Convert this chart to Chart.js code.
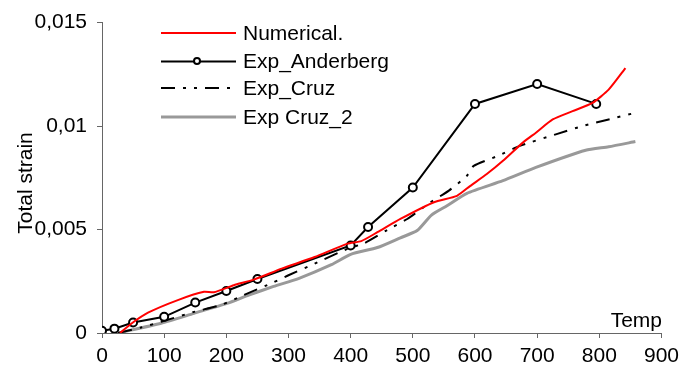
<!DOCTYPE html>
<html>
<head>
<meta charset="utf-8">
<script src="https://cdn.jsdelivr.net/npm/chart.js@4.4.1/dist/chart.umd.min.js"></script>
<style>
  html, body { margin: 0; padding: 0; background: #fff; }
  #wrap { width: 685px; height: 376px; }
</style>
</head>
<body>
<div id="wrap"><canvas id="strain" width="685" height="376"></canvas></div>
<script>
// values
const numX = [29, 48, 74, 122, 164, 180, 212, 244, 289, 342, 395, 417, 443, 480, 534, 571, 592, 619, 645, 677, 698, 725, 757, 789, 815, 842];
const numY = [0, 0.00047, 0.00098, 0.00159, 0.00199, 0.00197, 0.00231, 0.00258, 0.00311, 0.00367, 0.00432, 0.00444, 0.00487, 0.00551, 0.00632, 0.00663, 0.0071, 0.00768, 0.00832, 0.0092, 0.00968, 0.01032, 0.01072, 0.01112, 0.01176, 0.0128];

const andX = [0, 20, 50, 100, 150, 200, 250, 400, 428, 500, 600, 700, 795];
const andY = [0.00011, 0.00021, 0.00051, 0.00078, 0.00147, 0.00203, 0.00261, 0.00423, 0.00512, 0.00703, 0.01107, 0.01203, 0.01107];

const cruzX = [26, 63, 95, 148, 191, 228, 276, 300, 342, 395, 422, 459, 491, 528, 558, 587, 598, 637, 672, 730, 773, 815, 858];
const cruzY = [0, 0.00027, 0.00054, 0.00102, 0.00135, 0.00183, 0.00245, 0.00279, 0.00335, 0.00407, 0.00434, 0.00498, 0.00551, 0.00631, 0.00688, 0.0076, 0.00808, 0.00856, 0.00904, 0.0096, 0.01, 0.01032, 0.01064];

const cruz2X = [26, 95, 148, 201, 236, 276, 316, 369, 400, 443, 480, 507, 530, 555, 587, 645, 698, 778, 815, 858];
const cruz2Y = [0, 0.00047, 0.00095, 0.00143, 0.00183, 0.00225, 0.00263, 0.0033, 0.0038, 0.00413, 0.0046, 0.00495, 0.0057, 0.00615, 0.00675, 0.00736, 0.008, 0.00883, 0.009, 0.00925];

const xTicks = [0, 100, 200, 300, 400, 500, 600, 700, 800, 900];
const yTicks = [0, 0.005, 0.01, 0.015];
const yTickLabels = ['0', '0,005', '0,01', '0,015'];

const seriesNames = ['Numerical.', 'Exp_Anderberg', 'Exp_Cruz', 'Exp Cruz_2'];

function pts(xs, ys) {
    return xs.map((x, i) => ({ x: x, y: ys[i] }));
}

const FONT = '"Liberation Sans", Arial, sans-serif';
const AXIS = '#666666';
const dashDot = [14, 8, 3, 8, 3, 8];

// legend + axis titles drawn by hand
const extras = {
    id: 'extras',
    afterDraw(chart) {
        const ctx = chart.ctx;
        const ds = chart.data.datasets;
        ctx.save();
        ctx.font = '21px ' + FONT;
        ctx.fillStyle = '#000';
        ctx.textBaseline = 'middle';

        const rows = [33, 61.5, 88, 117];
        rows.forEach((ry, i) => {
            const d = ds[i];
            ctx.save();
            ctx.strokeStyle = d.borderColor;
            ctx.lineWidth = d.borderWidth;
            ctx.setLineDash(d.borderDash || []);
            ctx.beginPath();
            ctx.moveTo(161, ry);
            ctx.lineTo(236, ry);
            ctx.stroke();
            ctx.restore();
            if (i === 1) {
                ctx.save();
                ctx.beginPath();
                ctx.arc(197, ry - 0.5, 3, 0, Math.PI * 2);
                ctx.fillStyle = '#fff';
                ctx.fill();
                ctx.lineWidth = 2;
                ctx.strokeStyle = '#000';
                ctx.stroke();
                ctx.restore();
            }
            ctx.textAlign = 'left';
            ctx.fillText(seriesNames[i], 243, ry + 1);
        });

        ctx.textAlign = 'right';
        ctx.fillText('Temp', 662, 321);

        ctx.translate(26, 183);
        ctx.rotate(-Math.PI / 2);
        ctx.textAlign = 'center';
        ctx.fillText('Total strain', 0, 0);
        ctx.restore();
    }
};

const ctx = document.getElementById('strain').getContext('2d');
const chart = new Chart(ctx, {
    type: 'line',
    data: {
        datasets: [
            {
                label: seriesNames[0],
                data: pts(numX, numY),
                borderColor: '#ff0000',
                borderWidth: 2,
                pointRadius: 0,
                tension: 0.2
            },
            {
                label: seriesNames[1],
                data: pts(andX, andY),
                borderColor: '#000000',
                borderWidth: 2,
                pointRadius: 4,
                pointBorderWidth: 2,
                pointBackgroundColor: '#ffffff',
                pointBorderColor: '#000000',
                tension: 0
            },
            {
                label: seriesNames[2],
                data: pts(cruzX, cruzY),
                borderColor: '#000000',
                borderWidth: 2,
                borderDash: dashDot,
                pointRadius: 0,
                tension: 0.2
            },
            {
                label: seriesNames[3],
                data: pts(cruz2X, cruz2Y),
                borderColor: '#999999',
                borderWidth: 3,
                pointRadius: 0,
                tension: 0.2
            }
        ]
    },
    options: {
        responsive: false,
        animation: false,
        layout: { padding: { left: 0, right: 19, top: 21, bottom: 0 } },
        plugins: {
            legend: { display: false },
            tooltip: { enabled: false }
        },
        scales: {
            x: {
                type: 'linear',
                min: 0,
                max: 900,
                afterFit(scale) { scale.height = 43; },
                afterBuildTicks(scale) { scale.ticks = xTicks.map(v => ({ value: v })); },
                border: { display: true, color: AXIS, width: 1 },
                grid: { display: true, drawOnChartArea: false, drawTicks: true, tickLength: 5, color: AXIS },
                ticks: {
                    color: '#000',
                    font: { family: FONT, size: 21 },
                    padding: 6,
                    maxRotation: 0,
                    autoSkip: false
                }
            },
            y: {
                type: 'linear',
                min: 0,
                max: 0.015,
                afterFit(scale) { scale.width = 102; },
                afterBuildTicks(scale) { scale.ticks = yTicks.map(v => ({ value: v })); },
                border: { display: true, color: AXIS, width: 1 },
                grid: { display: true, drawOnChartArea: false, drawTicks: true, tickLength: 5, color: AXIS },
                ticks: {
                    color: '#000',
                    font: { family: FONT, size: 21 },
                    padding: 10,
                    callback: (v) => yTickLabels[yTicks.indexOf(v)]
                }
            }
        }
    },
    plugins: [extras]
});
</script>
</body>
</html>
